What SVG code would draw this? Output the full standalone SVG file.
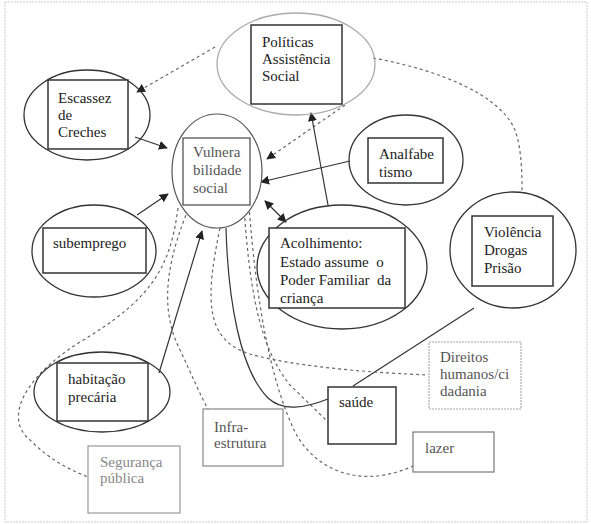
<svg xmlns="http://www.w3.org/2000/svg" width="591" height="524" viewBox="0 0 591 524">
<defs>
<marker id="ah" viewBox="0 0 10 10" refX="9" refY="5" markerWidth="9" markerHeight="9" markerUnits="userSpaceOnUse" orient="auto-start-reverse">
<path d="M0,0 L10,5 L0,10 z" fill="#222"/>
</marker>
</defs>
<style>
text{font-family:'Liberation Serif','DejaVu Serif','Times New Roman',serif;font-size:15px;fill:#222}
.ell{fill:none;stroke:#333;stroke-width:1.3}
.box{fill:#fff;stroke:#333;stroke-width:1.5}
.sol{fill:none;stroke:#333;stroke-width:1.2}
.dash{fill:none;stroke:#666;stroke-width:1.2;stroke-dasharray:3 3}
.gt{fill:#555}
.lt{fill:#888}
</style>
<rect x="5" y="2" width="582" height="520" fill="#fff" stroke="#ccc" stroke-width="1" stroke-dasharray="2 1"/>

<g id="connectors">
<line class="dash" x1="215" y1="47" x2="137" y2="92" marker-end="url(#ah)"/>
<line class="dash" x1="345" y1="105" x2="267" y2="159" marker-end="url(#ah)"/>
<line class="sol" x1="135" y1="137" x2="167" y2="148" marker-end="url(#ah)"/>
<line class="sol" x1="350" y1="161" x2="261" y2="182" marker-end="url(#ah)"/>
<line class="sol" x1="328" y1="205" x2="311" y2="113" marker-end="url(#ah)"/>
<line class="sol" x1="265" y1="201" x2="286" y2="222" marker-start="url(#ah)" marker-end="url(#ah)"/>
<line class="sol" x1="137" y1="215" x2="168" y2="194" marker-end="url(#ah)"/>
<line class="sol" x1="159" y1="373" x2="202" y2="231" marker-end="url(#ah)"/>
<line class="sol" x1="474" y1="308" x2="353" y2="386"/>
<path class="sol" d="M226,228 C 228,300 240,370 268,398 C 283,412 305,408 328,399"/>
<path class="dash" d="M373,58 C 440,70 500,95 515,130 C 522,150 522,175 522,193"/>
<path class="dash" d="M178,208 C 170,270 150,300 80,342 C 20,380 5,420 30,440 C 50,460 70,470 88,477"/>
<path class="dash" d="M186,215 C 160,280 165,320 180,350 C 192,375 200,395 208,409"/>
<path class="dash" d="M220,228 C 205,300 205,340 250,354 C 300,368 380,373 428,375"/>
<path class="dash" d="M244,206 C 250,300 262,350 290,385 L 328,422"/>
<path class="dash" d="M249,206 C 256,300 270,380 295,432 C 315,470 360,490 413,466"/>
</g>

<g id="politicas">
<ellipse cx="296" cy="64" rx="79" ry="51" fill="none" stroke="#aaa" stroke-width="1.3"/>
<rect class="box" x="251" y="25" width="91" height="79"/>
<text x="262" y="47">Políticas</text>
<text x="262" y="64">Assistência</text>
<text x="262" y="81">Social</text>
</g>

<g id="escassez">
<ellipse class="ell" cx="87" cy="115" rx="63" ry="45"/>
<rect class="box" x="48" y="80" width="80" height="69"/>
<text x="58" y="103">Escassez</text>
<text x="58" y="120">de</text>
<text x="58" y="137">Creches</text>
</g>

<g id="vulnerabilidade">
<ellipse cx="217" cy="171" rx="45" ry="57" fill="#fff" stroke="#555" stroke-width="1.2"/>
<rect x="183" y="138" width="67" height="67" fill="#fff" stroke="#555" stroke-width="1.3"/>
<text class="gt" x="193" y="157">Vulnera</text>
<text class="gt" x="193" y="175">bilidade</text>
<text class="gt" x="193" y="193">social</text>
</g>

<g id="analfabetismo">
<ellipse class="ell" cx="406" cy="160" rx="57" ry="45" fill="#fff"/>
<rect class="box" x="368" y="138" width="75" height="45"/>
<text x="379" y="159">Analfabe</text>
<text x="379" y="177">tismo</text>
</g>

<g id="subemprego">
<ellipse class="ell" cx="94" cy="251" rx="62" ry="46"/>
<rect class="box" x="43" y="228" width="103" height="45"/>
<text x="53" y="248">subemprego</text>
</g>

<g id="acolhimento">
<ellipse class="ell" cx="342" cy="267" rx="85" ry="62" fill="#fff"/>
<rect class="box" x="269" y="228" width="136" height="80"/>
<text x="280" y="248">Acolhimento:</text>
<text x="280" y="267" xml:space="preserve">Estado assume  o</text>
<text x="280" y="285" xml:space="preserve">Poder Familiar  da</text>
<text x="280" y="303">criança</text>
</g>

<g id="violencia">
<ellipse class="ell" cx="513" cy="250" rx="63" ry="58" fill="#fff"/>
<rect class="box" x="472" y="216" width="81" height="70"/>
<text x="484" y="237">Violência</text>
<text x="484" y="255">Drogas</text>
<text x="484" y="273">Prisão</text>
</g>

<g id="habitacao">
<ellipse class="ell" cx="102" cy="392" rx="68" ry="40" fill="#fff"/>
<rect class="box" x="57" y="363" width="91" height="58"/>
<text x="68" y="384">habitação</text>
<text x="68" y="402">precária</text>
</g>

<g id="infraestrutura">
<rect x="203" y="409" width="80" height="57" fill="#fff" stroke="#888" stroke-width="1.2"/>
<text class="gt" x="214" y="432">Infra-</text>
<text class="gt" x="214" y="448">estrutura</text>
</g>

<g id="seguranca">
<rect x="88" y="446" width="92" height="67" fill="#fff" stroke="#999" stroke-width="1.2"/>
<text class="lt" x="100" y="467">Segurança</text>
<text class="lt" x="100" y="483">pública</text>
</g>

<g id="saude">
<rect class="box" x="328" y="387" width="68" height="57"/>
<text x="339" y="407">saúde</text>
</g>

<g id="direitos">
<rect x="429" y="342" width="92" height="67" fill="#fff" stroke="#aaa" stroke-width="1.2" stroke-dasharray="2 1"/>
<text class="gt" x="440" y="362">Direitos</text>
<text class="gt" x="440" y="379">humanos/ci</text>
<text class="gt" x="440" y="396">dadania</text>
</g>

<g id="lazer">
<rect x="413" y="432" width="81" height="40" fill="#fff" stroke="#777" stroke-width="1.2"/>
<text class="gt" x="425" y="453">lazer</text>
</g>
</svg>
